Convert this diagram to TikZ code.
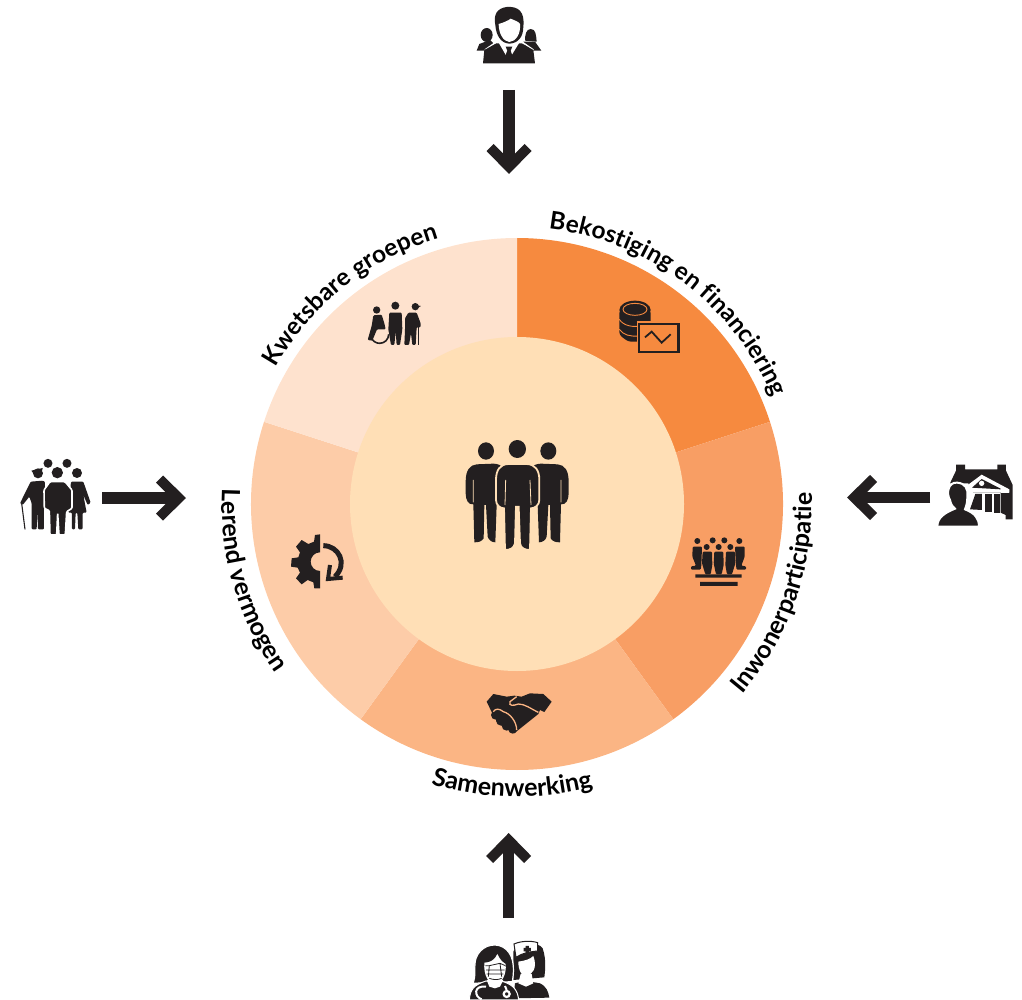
\documentclass[tikz,border=0pt]{standalone}
\usepackage{fontspec}
\setmainfont{Lato}
\usetikzlibrary{decorations.text}
\definecolor{ink}{HTML}{231F20}
\definecolor{sA}{HTML}{F68A3F}
\definecolor{sB}{HTML}{F89E64}
\definecolor{sC}{HTML}{FBB584}
\definecolor{sD}{HTML}{FDCCA8}
\definecolor{sE}{HTML}{FEE2CE}
\definecolor{core}{HTML}{FFDFB6}
\newcommand\lblfont{\fontsize{25}{26}\selectfont\bfseries}
\newcommand\lblfontb{\fontsize{24.4}{26}\selectfont\bfseries}
\newcommand\chevron[2]{\fill[ink,shift={(#1)},rotate=#2] (0,0) -- (-22.5,-23) -- (-15.5,-30) -- (0,-14.5) -- (15.5,-30) -- (22.5,-23) -- cycle;}
\tikzset{
  zoomed/.style 2 args={shift={(#1,#2)},x=0.3333pt,y=-0.3333pt},
  shaft/.style={draw=ink,line width=11.2pt},
  ringlabel/.style={decorate,decoration={text along path,text align=center,text={|\lblfont|#1}}},
  ringlabelb/.style={decorate,decoration={text along path,text align=center,text={|\lblfontb|#1}}},
  pk/.style={fill=ink,rounded corners=1pt},
  halo/.style={fill=ink,draw=#1,line width=1.6pt,rounded corners=1pt},
}
\begin{document}
\begin{tikzpicture}[x=1pt,y=-1pt]
\useasboundingbox (0,0) rectangle (1022,1000);
% ring
\begin{scope}[shift={(517,504)},x=1pt,y=1pt]
 \fill[sA] (0,0) -- (90:266) arc[start angle=90,end angle=18,radius=266] -- cycle;
 \fill[sB] (0,0) -- (18:266) arc[start angle=18,end angle=-54,radius=266] -- cycle;
 \fill[sC] (0,0) -- (-54:266) arc[start angle=-54,end angle=-126,radius=266] -- cycle;
 \fill[sD] (0,0) -- (-126:266) arc[start angle=-126,end angle=-198,radius=266] -- cycle;
 \fill[sE] (0,0) -- (162:266) arc[start angle=162,end angle=90,radius=266] -- cycle;
 \fill[core] (0,0) circle[radius=167];
 \path[ringlabelb={Bekostiging en financiering}] (99:277) arc[start angle=99,end angle=7,radius=277];
 \path[ringlabelb={Kwetsbare groepen}] (171:277) arc[start angle=171,end angle=86,radius=277];
 \path[ringlabel={Inwonerparticipatie}] (-70:295) arc[start angle=-70,end angle=32,radius=295];
 \path[ringlabel={Samenwerking}] (-131:293) arc[start angle=-131,end angle=-51,radius=293];
 \path[ringlabel={Lerend vermogen}] (150:295) arc[start angle=150,end angle=242,radius=295];
\end{scope}
% arrows
\coordinate (topfrom) at (509,90);   \coordinate (topto) at (509,174);
\coordinate (leftfrom) at (102,498); \coordinate (leftto) at (186,498);
\coordinate (rightfrom) at (930,497.5); \coordinate (rightto) at (847,497.5);
\coordinate (botfrom) at (508.7,918); \coordinate (botto) at (508.7,833);
\path[shaft] (topfrom) -- ([yshift=8pt]topto);
\path[shaft] (leftfrom) -- ([xshift=-8pt]leftto);
\path[shaft] (rightfrom) -- ([xshift=8pt]rightto);
\path[shaft] (botfrom) -- ([yshift=-8pt]botto);
\chevron{topto}{0}
\chevron{leftto}{90}
\chevron{rightto}{-90}
\chevron{botto}{180}

% top icon
\begin{scope}[zoomed={440}{0}]
 \fill[ink] (140,105) circle[x radius=18,y radius=21];
 \fill[ink] (110,152) -- (118,132) -- (150,120) -- (165,135) -- (140,152) -- cycle;
 \fill[ink] (272,87) .. controls (258,87) and (255,105) .. (255,122) -- (290,125) .. controls (288,105) and (288,87) .. (272,87) -- cycle;
 \fill[ink] (250,125) -- (285,125) -- (304,152) -- (260,152) -- cycle;
 \draw[white,line width=1.6pt] (135,150) -- (175,122) (280,150) -- (240,122) ;
 \fill[ink] (129,190) -- (133,150) -- (175,127) -- (240,127) -- (280,150) -- (285,190) -- cycle;
 \fill[white] (176,128) -- (206,180) -- (238,128) -- cycle;
 \fill[ink] (197,140) -- (217,140) -- (212,152) -- (219,172) -- (206,184) -- (194,172) -- (202,152) -- cycle;
 \fill[white] (160,90) -- (170,130) -- (245,130) -- (256,90) -- cycle;
 \fill[ink] (166,75) .. controls (160,45) and (170,25) .. (200,21) .. controls (235,18) and (255,35) .. (250,80) .. controls (250,110) and (235,130) .. (208,131) .. controls (182,130) and (168,105) .. (166,75) -- cycle;
 \fill[white] (176,72) .. controls (190,68) and (205,62) .. (212,56) .. controls (225,62) and (235,64) .. (240,72) .. controls (243,100) and (228,125) .. (208,126) .. controls (190,125) and (176,100) .. (176,72) -- cycle;
\end{scope}

% left icon
\begin{scope}[zoomed={0}{440}]
 \fill[ink] (144,70) circle[radius=13.5] (201,70) circle[radius=13.5] (172,98) circle[radius=17] (231,99) circle[radius=15] (114,100) circle[radius=15];
 \fill[ink] (94,92) -- (128,84) -- (125,98) -- (100,100) -- cycle;
 \path[pk] (92,125) -- (128,122) -- (135,125) -- (132,205) -- (132,268) -- (114,268) -- (112,210) -- (110,268) -- (95,268) -- (95,190) -- (88,170) -- (68,195) -- (60,190) -- cycle;
 \draw[ink,line width=1.1pt] (65,190) -- (75,268);
 \path[pk] (213,125) -- (250,125) -- (272,188) -- (263,195) -- (250,165) -- (260,218) -- (248,218) -- (248,268) -- (235,268) -- (232,218) -- (227,218) -- (225,268) -- (216,268) -- (216,218) -- (205,218) -- cycle;
 \path[halo=white] (132,150) -- (150,125) -- (195,125) -- (216,150) -- (216,205) -- (200,215) -- (196,285) -- (177,285) -- (173,220) -- (170,285) -- (150,285) -- (148,212) -- (133,205) -- cycle;
\end{scope}

% right icon
\begin{scope}[zoomed={840}{450}]
 \fill[ink] (348,44) -- (375,44) -- (375,58) -- (472,58) -- (472,44) -- (498,44) -- (498,62) -- (518,105) -- (518,208) -- (497,208) -- (497,195) -- (482,188) -- (482,128) -- (400,128) -- (385,100) -- (345,100) -- (330,100) -- (348,62) -- cycle;
 \fill[white] (386,103) -- (425,74) -- (508,118) -- (508,128) -- (395,128) -- cycle;
 \fill[ink] (396,113) -- (425,87) -- (482,116) -- (482,118) -- cycle;
 \fill[white] (425,100) circle[radius=8];
 \fill[white] (482,120) rectangle (508,128);
 \fill[ink] (435,132) rectangle (455,186);
 \fill[ink] (462,132) rectangle (480,188);
 \fill[ink] (406,132) -- (426,132) -- (426,180) -- (390,178) -- cycle;
 \draw[white,line width=2pt,fill=ink] (352,98) .. controls (325,95) and (318,130) .. (330,150) .. controls (333,165) and (340,172) .. (345,176) .. controls (310,190) and (292,205) .. (292,230) -- (417,230) .. controls (417,205) and (405,190) .. (375,178) .. controls (380,165) and (382,155) .. (382,140) .. controls (385,115) and (375,100) .. (352,98) -- cycle;
 \fill[white] (280,233) rectangle (430,240);
\end{scope}

% bottom icon
\begin{scope}[zoomed={450}{820}]
 % nurse
 \fill[ink] (190,395) .. controls (195,370) and (265,362) .. (278,385) .. controls (290,420) and (285,455) .. (283,472) -- (190,480) -- cycle;
 \fill[ink] (195,490) -- (225,482) -- (270,490) .. controls (290,500) and (295,515) .. (298,533) -- (190,535) -- cycle;
 \fill[white,draw=ink,line width=1pt] (192,372) .. controls (215,362) and (245,362) .. (263,368) -- (263,393) .. controls (240,395) and (215,400) .. (198,412) -- cycle;
 \fill[ink] (227,378) rectangle (237,400) (221,384) rectangle (243,394);
 \fill[white] (205,425) .. controls (225,422) and (240,418) .. (250,408) .. controls (258,430) and (255,445) .. (250,452) .. controls (240,465) and (232,470) .. (226,470) .. controls (215,468) and (205,450) .. (205,425) -- cycle;
 \fill[white] (212,462) -- (245,462) -- (250,490) -- (228,500) -- (205,490) -- cycle;
 % doctor
 \fill[ink,draw=white,line width=1.2pt] (68,490) .. controls (80,470) and (70,440) .. (78,415) .. controls (90,380) and (130,365) .. (160,382) .. controls (190,400) and (195,440) .. (187,485) -- cycle;
 \fill[ink,draw=white,line width=1pt] (58,540) .. controls (60,510) and (70,495) .. (108,483) -- (160,485) .. controls (190,495) and (203,510) .. (206,540) -- cycle;
 \fill[white] (103,428) .. controls (120,428) and (135,420) .. (142,402) .. controls (150,420) and (160,428) .. (167,432) .. controls (170,465) and (155,490) .. (135,495) .. controls (115,490) and (100,465) .. (103,428) -- cycle;
 \fill[white] (110,480) -- (160,480) -- (150,500) -- (135,505) -- (118,500) -- cycle;
 \draw[ink,line width=0.8pt] (106,437) -- (118,437) -- (150,430) -- (166,437) (108,450) -- (164,450) (110,462) -- (160,462) (118,437) -- (115,470) (150,430) -- (155,470) (118,475) .. controls (130,480) and (145,480) .. (155,475);
 \draw[white,line width=2pt] (108,500) .. controls (70,495) and (72,530) .. (95,538);
 \draw[white,line width=2pt] (165,498) -- (170,510);
 \draw[white,line width=2.2pt] (170,522) circle[radius=9];
\end{scope}

% centre icon
\begin{scope}[zoomed={450}{425}]
 \fill[ink] (108,78) circle[x radius=24,y radius=26] (295,78) circle[x radius=24,y radius=26] (202,72) circle[x radius=26,y radius=27];
 \fill[ink] (80,118) -- (130,116) .. controls (140,116) and (150,120) .. (152,122) -- (150,200) -- (140,240) -- (136,352) .. controls (125,352) and (116,345) .. (113,335) -- (108,240) -- (103,240) -- (101,340) .. controls (95,350) and (85,352) .. (73,352) -- (70,238) .. controls (55,240) and (47,225) .. (47,205) -- (47,170) .. controls (47,135) and (60,120) .. (80,118) -- cycle;
 \fill[ink] (323,118) -- (273,116) .. controls (263,116) and (253,120) .. (251,122) -- (253,200) -- (263,240) -- (267,352) .. controls (278,352) and (287,345) .. (290,335) -- (295,240) -- (300,240) -- (302,340) .. controls (308,350) and (318,352) .. (330,352) -- (333,238) .. controls (348,240) and (356,225) .. (356,205) -- (356,170) .. controls (356,135) and (343,120) .. (323,118) -- cycle;
 \fill[ink,draw=core,line width=1.8pt] (175,117) -- (230,117) .. controls (255,118) and (268,135) .. (268,165) -- (268,225) .. controls (268,240) and (255,250) .. (243,250) -- (240,375) .. controls (225,375) and (212,370) .. (210,355) -- (206,245) -- (198,245) -- (195,355) .. controls (192,370) and (180,375) .. (165,375) -- (162,250) .. controls (150,250) and (138,240) .. (138,225) -- (138,165) .. controls (138,135) and (150,118) .. (175,117) -- cycle;
 \draw[core,line width=0.8pt] (167,165) -- (165,240) (240,165) -- (243,240) (70,165) -- (70,232) (333,165) -- (333,232);
\end{scope}

% money icon
\begin{scope}[zoomed={600}{290}]
 \path[fill=ink,rounded corners=3pt] (58,60) -- (58,135) -- (85,155) -- (125,155) -- (152,135) -- (152,60) -- cycle;
 \fill[ink] (105,60) ellipse[x radius=47,y radius=28];
 \draw[sA,line width=0.9pt] (58,88) .. controls (70,108) and (100,112) .. (120,108) (58,118) .. controls (70,135) and (90,140) .. (115,138);
 \draw[sA,line width=0.9pt] (105,58) ellipse[x radius=36,y radius=18];
 \draw[ink,line width=1pt] (88,52) .. controls (90,66) and (120,66) .. (122,52) (105,48) -- (105,66) (96,60) -- (114,60);
 \fill[sA] (110,94) rectangle (244,194);
 \draw[ink,line width=2.4pt,fill=sA] (117,102) rectangle (236,186);
 \draw[ink,line width=1.8pt] (135,142) -- (155,125) -- (185,158) -- (212,133);
\end{scope}

% participation icon
\begin{scope}[zoomed={680}{525}]
 \fill[ink] (52,48) circle[radius=9] (98,46) circle[radius=9] (133,46) circle[radius=9] (178,48) circle[radius=9] (80,66) circle[radius=9] (116,66) circle[radius=9] (151,66) circle[radius=9];
 \path[pk] (38,65) -- (66,65) -- (64,122) -- (62,134) -- (33,134) -- (33,124) -- (48,122) -- (37,95) -- cycle;
 \path[pk] (165,65) -- (194,65) -- (194,95) -- (184,122) -- (198,124) -- (198,134) -- (170,134) -- (168,122) -- cycle;
 \path[pk] (68,80) -- (96,80) -- (97,120) -- (92,148) -- (76,148) -- (66,115) -- cycle;
 \path[pk] (103,80) -- (130,80) -- (131,120) -- (125,148) -- (108,148) -- (101,115) -- cycle;
 \path[pk] (138,80) -- (165,80) -- (166,115) -- (156,148) -- (141,148) -- (136,120) -- cycle;
 \fill[ink] (46,148) rectangle (185,158) (60,171) rectangle (173,183);
\end{scope}

% handshake icon
\begin{scope}[zoomed={475}{680}]
 \fill[ink] (35,65) -- (55,42) -- (95,50) -- (118,47) -- (140,50) -- (165,40) -- (205,42) -- (230,65) -- (208,96) -- (195,90) -- (190,102) -- (130,150) -- (118,160) -- (100,150) -- (60,115) -- (50,96) -- cycle;
 \fill[ink] (62,105) circle[radius=14] (78,122) circle[radius=15] (95,137) circle[radius=15] (113,148) circle[radius=13];
 \draw[sC,line width=1.3pt] (190,97) .. controls (165,85) and (150,72) .. (130,72) .. controls (115,78) and (100,78) .. (105,65) -- (125,50);
 \draw[sC,line width=1.3pt] (55,95) .. controls (62,85) and (72,85) .. (85,95) .. controls (105,100) and (125,125) .. (125,150);
\end{scope}

% gear icon
\begin{scope}[zoomed={280}{525}]
 \fill[ink] (120,28) -- (105,30) -- (102,50) -- (85,57) -- (65,45) -- (48,65) -- (60,82) -- (55,97) -- (35,100) -- (33,125) -- (53,128) -- (60,143) -- (48,160) -- (65,178) -- (83,165) -- (100,172) -- (103,190) -- (120,190) -- (120,138) arc[start angle=90,end angle=270,radius=28] -- cycle;
 \draw[ink,line width=5pt] (130,62) .. controls (175,62) and (205,115) .. (165,155);
 \draw[ink,line width=4pt] (150,120) -- (144,162) -- (188,158);
\end{scope}

% vulnerable groups icon
\begin{scope}[zoomed={355}{290}]
 \fill[ink] (65,60) circle[radius=11] (121,47) circle[radius=12] (181,50) circle[radius=11];
 \fill[ink] (172,44) -- (198,48) -- (188,54) -- (172,54) -- cycle;
 \path[pk] (55,76) -- (80,74) -- (88,100) -- (92,118) -- (66,118) -- (52,152) -- (38,150) -- (50,108) -- cycle;
 \draw[ink,line width=1.6pt] (101,133) arc[start angle=0,end angle=160,radius=27];
 \path[pk] (103,68) -- (140,68) -- (142,118) -- (135,165) -- (125,165) -- (122,125) -- (118,165) -- (108,165) -- (100,118) -- cycle;
 \path[pk] (160,68) -- (185,68) -- (197,100) -- (197,112) -- (185,112) -- (182,165) -- (172,165) -- (168,130) -- (162,165) -- (148,165) -- (150,120) -- (150,85) -- cycle;
 \draw[ink,line width=1.3pt] (190,110) -- (190,165);
\end{scope}
\end{tikzpicture}
\end{document}
